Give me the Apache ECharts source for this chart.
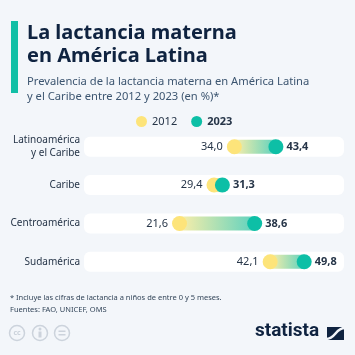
<!DOCTYPE html>
<html><head><meta charset="utf-8">
<script src="https://cdn.jsdelivr.net/npm/echarts@6/dist/echarts.min.js"></script>
<style>html,body{margin:0;padding:0;background:#f3f6fa;}#c{width:355px;height:355px;}</style>
</head><body><div id="c"></div>
<script>
const categories = ['Latinoamérica\ny el Caribe', 'Caribe', 'Centroamérica', 'Sudamérica'];
const values2012 = [34.0, 29.4, 21.6, 42.1];
const values2023 = [43.4, 31.3, 38.6, 49.8];
const seriesNames = ['2012', '2023'];
const axisMax = 58.8;

const YELLOW = '#fde47a', TEAL = '#0dbfa6', DARK = '#0f2340', TXT = '#263548';
const fmt = v => v.toFixed(1).replace('.', ',');

const chart = echarts.init(document.getElementById('c'), null, {renderer: 'canvas'});
chart.setOption({
  backgroundColor: '#f3f6fa',
  animation: false,
  title: {
    text: 'La lactancia materna\nen América Latina',
    subtext: 'Prevalencia de la lactancia materna en América Latina\ny el Caribe entre 2012 y 2023 (en %)*',
    left: 22, top: 17, itemGap: 6,
    textStyle: {fontFamily: 'Noto Sans', fontWeight: 'bold', fontSize: 20, color: DARK, lineHeight: 23},
    subtextStyle: {fontFamily: 'Noto Sans', fontSize: 11.2, color: '#3c5570', lineHeight: 15}
  },
  legend: {
    top: 111, left: 131, itemWidth: 11, itemHeight: 11, itemGap: 14,
    icon: 'circle',
    data: seriesNames,
    formatter: n => n === '2023' ? '{b|' + n + '}' : '{a|' + n + '}',
    textStyle: {
      fontFamily: 'Noto Sans', fontSize: 11, color: TXT,
      rich: {a: {fontFamily: 'Noto Sans', fontSize: 11, color: TXT}, b: {fontFamily: 'Noto Sans', fontSize: 11, fontWeight: 'bold', color: TXT}}
    }
  },
  grid: {left: 84, right: 11, top: 127.5, bottom: 74},
  xAxis: {type: 'value', min: 0, max: axisMax, show: false},
  yAxis: {
    type: 'category', data: categories, inverse: true,
    axisLine: {show: false}, axisTick: {show: false},
    axisLabel: {margin: 4, fontFamily: 'Noto Sans', fontSize: 10, color: TXT, lineHeight: 13, align: 'right'}
  },
  series: [
    {
      type: 'bar', name: 'bg', data: values2012.map(() => 0), barWidth: 20,
      showBackground: true, silent: true,
      backgroundStyle: {color: '#ffffff', borderRadius: 6}, z: 1
    },
    {
      type: 'custom', name: 'range', z: 2,
      data: values2012.map((v, i) => [v, values2023[i], i]),
      renderItem: (params, api) => {
        const a = api.coord([api.value(0), api.value(2)]);
        const b = api.coord([api.value(1), api.value(2)]);
        const h = 14;
        return {
          type: 'rect',
          shape: {x: a[0], y: a[1] - h / 2, width: b[0] - a[0], height: h},
          style: {fill: new echarts.graphic.LinearGradient(0, 0, 1, 0, [
            {offset: 0, color: '#fbeea9'}, {offset: 1, color: '#5fd2bf'}])}
        };
      }
    },
    {
      type: 'scatter', name: '2012', data: values2012.map((v, i) => [v, i]),
      symbolSize: 15, itemStyle: {color: YELLOW, opacity: 1}, z: 3,
      label: {show: true, position: 'left', distance: 4, formatter: p => fmt(p.value[0]),
        fontFamily: 'Noto Sans', fontSize: 11, color: TXT}
    },
    {
      type: 'scatter', name: '2023', data: values2023.map((v, i) => [v, i]),
      symbolSize: 15, itemStyle: {color: TEAL, opacity: 1}, z: 4,
      label: {show: true, position: 'right', distance: 3, formatter: p => fmt(p.value[0]),
        fontFamily: 'Noto Sans', fontSize: 11, fontWeight: 'bold', color: TXT}
    }
  ],
  graphic: [
    {type: 'rect', left: 11, top: 21, shape: {width: 7, height: 72}, style: {fill: '#12bfa6'}},
    {type: 'text', left: 10, top: 294, style: {text: '* Incluye las cifras de lactancia a niños de entre 0 y 5 meses.', fontFamily: 'Noto Sans', fontSize: 7.5, fill: '#34465a'}},
    {type: 'text', left: 10, top: 306, style: {text: 'Fuentes: FAO, UNICEF, OMS', fontFamily: 'Noto Sans', fontSize: 7.5, fill: '#34465a'}},
    {type: 'circle', shape: {cx: 17, cy: 333, r: 7.5}, style: {fill: 'none', stroke: '#ccd3dc', lineWidth: 1.5}},
    {type: 'text', x: 17, y: 333, style: {text: 'cc', fontFamily: 'Noto Sans', fontWeight: 'bold', fontSize: 7, fill: '#ccd3dc', align: 'center', verticalAlign: 'middle'}},
    {type: 'circle', shape: {cx: 40, cy: 333, r: 7.5}, style: {fill: 'none', stroke: '#ccd3dc', lineWidth: 1.5}},
    {type: 'circle', shape: {cx: 40, cy: 329, r: 1.5}, style: {fill: '#ccd3dc'}},
    {type: 'rect', shape: {x: 38.5, y: 331.5, width: 3, height: 6}, style: {fill: '#ccd3dc'}},
    {type: 'circle', shape: {cx: 62, cy: 333, r: 7.5}, style: {fill: 'none', stroke: '#ccd3dc', lineWidth: 1.5}},
    {type: 'rect', shape: {x: 58.5, y: 330.5, width: 7, height: 1.5}, style: {fill: '#ccd3dc'}},
    {type: 'rect', shape: {x: 58.5, y: 334, width: 7, height: 1.5}, style: {fill: '#ccd3dc'}},
    {type: 'text', left: 255, top: 322, style: {text: 'statista', fontFamily: 'Roboto', fontWeight: 'bold', fontSize: 19, fill: DARK}},
    {type: 'rect', shape: {x: 327, y: 327, width: 17, height: 13}, style: {fill: DARK}},
    {type: 'bezierCurve', shape: {x1: 326, y1: 339, x2: 345, y2: 328, cpx1: 336, cpy1: 339, cpx2: 335, cpy2: 328}, style: {stroke: '#f3f6fa', lineWidth: 2.5, fill: 'none'}}
  ]
});
</script></body></html>
